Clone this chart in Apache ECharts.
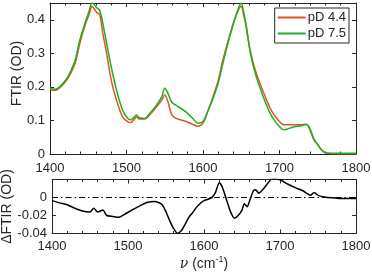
<!DOCTYPE html>
<html>
<head>
<meta charset="utf-8">
<script src="https://cdn.jsdelivr.net/npm/echarts@6/dist/echarts.min.js"></script>
<style>html,body{margin:0;padding:0;background:#fff}#c{width:372px;height:277px}</style>
</head>
<body>
<div id="c"></div>
<script>
const nuTop = [1400,1406,1414,1422,1428,1433,1439,1446,1451,1455,1458,1461,1465,1469,1474,1480,1487,1495,1502,1506,1510,1513,1517,1524,1530,1539,1546,1550,1554,1559,1565,1578,1587,1593,1600,1606,1613,1620,1626,1632,1639,1646,1650,1653,1656,1662,1669,1678,1687,1695,1706,1717,1728,1735,1739,1745,1750,1755,1760,1770,1785,1800];
const pd44 = [0.193,0.189,0.200,0.221,0.245,0.271,0.330,0.385,0.415,0.440,0.432,0.422,0.415,0.360,0.300,0.220,0.160,0.110,0.096,0.094,0.103,0.110,0.104,0.104,0.116,0.140,0.160,0.176,0.157,0.118,0.106,0.097,0.088,0.083,0.092,0.126,0.170,0.220,0.280,0.330,0.385,0.428,0.440,0.415,0.385,0.305,0.245,0.190,0.140,0.110,0.087,0.087,0.087,0.089,0.076,0.042,0.028,0.012,0.004,0.001,0.001,0.001];
const pd75 = [0.196,0.193,0.203,0.225,0.252,0.280,0.340,0.392,0.425,0.450,0.445,0.436,0.428,0.390,0.330,0.260,0.190,0.130,0.105,0.102,0.110,0.116,0.108,0.106,0.120,0.145,0.170,0.196,0.182,0.155,0.145,0.125,0.105,0.092,0.097,0.126,0.165,0.212,0.270,0.325,0.382,0.432,0.450,0.425,0.390,0.300,0.235,0.175,0.125,0.095,0.072,0.080,0.084,0.088,0.080,0.045,0.028,0.012,0.004,0.002,0.002,0.002];
const nuDiff = [1400,1410,1420,1430,1440,1450,1455,1460,1467,1472,1480,1488,1495,1505,1515,1525,1535,1540,1545,1550,1555,1560,1565,1570,1575,1580,1585,1590,1595,1600,1605,1610,1615,1620,1622,1625,1630,1635,1640,1645,1650,1653,1657,1660,1665,1668,1672,1678,1685,1690,1700,1710,1720,1730,1740,1745,1750,1760,1770,1780,1790,1800];
const dFTIR = [-0.0035,-0.006,-0.008,-0.012,-0.015,-0.016,-0.012,-0.016,-0.014,-0.020,-0.021,-0.022,-0.019,-0.014,-0.0095,-0.0055,-0.0045,-0.0055,-0.008,-0.016,-0.026,-0.0345,-0.040,-0.037,-0.030,-0.022,-0.017,-0.011,-0.0066,-0.0035,-0.002,-0.0002,0.0055,0.0165,0.015,0.0094,-0.0035,-0.016,-0.023,-0.020,-0.014,-0.007,-0.0102,-0.0035,0.0075,0.0087,0.0047,0.0094,0.017,0.021,0.0197,0.015,0.011,0.0075,0.0024,0.0055,0.0024,0.0004,-0.0004,-0.0012,-0.0012,-0.0012];
const xTicks = {min:1400, max:1800, interval:100};
const topY = {min:0, max:0.45, interval:0.1};
const botY = {min:-0.04, max:0.02, interval:0.02};

const txt = '#262626';
const font = 'Liberation Sans, Arial, sans-serif';
function xAx(grid, pos, labels, margin, extra) {
  return Object.assign({
    type:'value', gridIndex:grid, position:pos, min:xTicks.min, max:xTicks.max, interval:xTicks.interval,
    axisLine:{show:true, onZero:false, lineStyle:{color:txt, width:1}},
    axisTick:{show:true, inside:true, length:4, lineStyle:{color:txt}},
    minorTick:{show:true, splitNumber:5, length:2.5, lineStyle:{color:txt}},
    splitLine:{show:false},
    axisLabel:{show:labels, color:txt, fontSize:13, fontFamily:font, margin:margin, formatter:v=>String(v)}
  }, extra||{});
}
function yAx(grid, pos, labels, r, extra) {
  return Object.assign({
    type:'value', gridIndex:grid, position:pos, min:r.min, max:r.max, interval:r.interval,
    axisLine:{show:true, onZero:false, lineStyle:{color:txt, width:1}},
    axisTick:{show:true, inside:true, length:4, lineStyle:{color:txt}},
    splitLine:{show:false},
    axisLabel:{show:labels, color:txt, fontSize:13, fontFamily:font, margin:5, showMaxLabel:false}
  }, extra||{});
}
const chart = echarts.init(document.getElementById('c'), null, {renderer:'canvas'});
chart.setOption({
  animation:false,
  backgroundColor:'#fff',
  grid:[
    {left:50, right:16, top:3, bottom:123, outerBoundsMode:'none', containLabel:false},
    {left:52, right:16, top:179.5, bottom:43.5, outerBoundsMode:'none', containLabel:false}
  ],
  legend:{
    data:['pD 4.4','pD 7.5'], right:23, top:8, orient:'vertical',
    icon:'rect', itemWidth:28, itemHeight:2, itemGap:1,
    borderColor:txt, borderWidth:1, padding:[2,3,2,3],
    textStyle:{color:txt, fontSize:13, fontFamily:font, lineHeight:15, padding:[0,0,0,-3]}
  },
  xAxis:[
    xAx(0,'bottom',true,8),
    xAx(0,'top',false,5),
    xAx(1,'bottom',true,6,{
      name:'{nu|ν} (cm{sup|-1})', nameLocation:'middle', nameGap:22, nameMoveOverlap:false,
      nameTextStyle:{color:txt, fontSize:14, fontFamily:font,
        rich:{nu:{fontFamily:'DejaVu Serif', fontStyle:'italic', fontSize:14, color:txt},
              sup:{fontSize:9, fontFamily:font, color:txt, padding:[0,0,8,0]}}}
    }),
    xAx(1,'top',false,5)
  ],
  yAxis:[
    yAx(0,'left',true,topY,{name:'FTIR (OD)', nameLocation:'middle', nameGap:26, nameMoveOverlap:false,
      nameTextStyle:{color:txt, fontSize:14, fontFamily:font, padding:[0,0,0,10]}}),
    yAx(0,'right',false,topY),
    yAx(1,'left',true,botY,{name:'ΔFTIR (OD)', nameLocation:'middle', nameGap:38, nameMoveOverlap:false,
      nameTextStyle:{color:txt, fontSize:14, fontFamily:font}}),
    yAx(1,'right',false,botY)
  ],
  series:[
    {name:'pD 4.4', type:'line', xAxisIndex:0, yAxisIndex:0, showSymbol:false, smooth:0.3,
     lineStyle:{color:'#E35325', width:1.5}, itemStyle:{color:'#E35325'},
     data:nuTop.map((v,i)=>[v,pd44[i]]), z:3},
    {name:'pD 7.5', type:'line', xAxisIndex:0, yAxisIndex:0, showSymbol:false, smooth:0.3,
     lineStyle:{color:'#1FAF24', width:1.5}, itemStyle:{color:'#1FAF24'},
     data:nuTop.map((v,i)=>[v,pd75[i]]), z:4},
    {name:'diff', type:'line', xAxisIndex:2, yAxisIndex:2, showSymbol:false, smooth:0.2,
     lineStyle:{color:'#000', width:1.5}, itemStyle:{color:'#000'},
     data:nuDiff.map((v,i)=>[v,dFTIR[i]]),
     markLine:{silent:true, symbol:'none', label:{show:false},
       lineStyle:{color:'#000', width:1, type:[6,3,1.5,3]}, data:[{yAxis:0}]}}
  ]
});
</script>
</body>
</html>
